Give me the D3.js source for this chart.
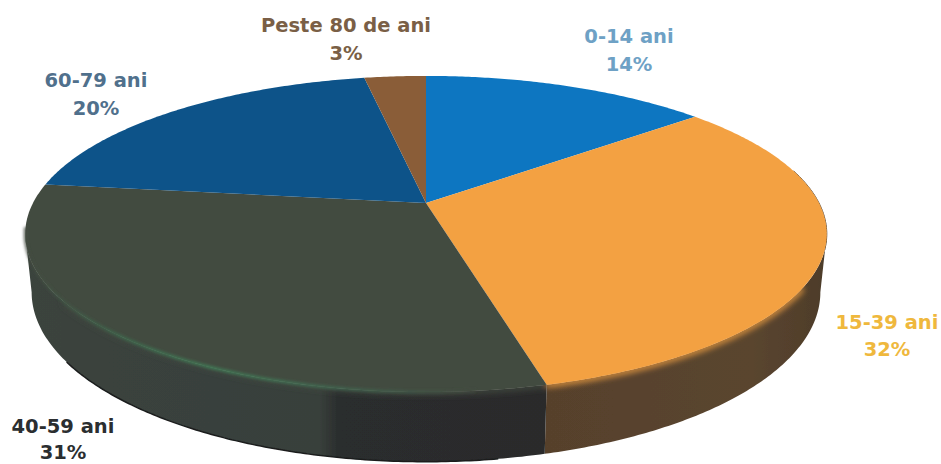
<!DOCTYPE html>
<html>
<head>
<meta charset="utf-8">
<script src="https://cdn.jsdelivr.net/npm/d3@7"></script>
<style>
html, body { margin: 0; padding: 0; background: #fff; overflow: hidden; }
text { font-family: "DejaVu Sans", sans-serif; font-weight: bold; text-anchor: middle; }
</style>
</head>
<body>
<div id="chart"></div>
<script>
// slices, clockwise from 12 o'clock
let categories = ["0-14 ani", "15-39 ani", "40-59 ani", "60-79 ani", "Peste 80 de ani"];
let values = [14, 32, 31, 20, 3];

let topColors = ["#0b76c1", "#f3a143", "#434b40", "#0b5289", "#8a5d37"];
let sideColors = ["#0a4a78", "url(#sideOrange)", "url(#sideDark)", "#08365a", "#54391f"];
let labelColors = ["#6ea1c5", "#efb83d", "#2b2e30", "#50708c", "#7a5f46"];
let labelX = [629, 887, 63, 96, 346];
let labelY = [43, 329, 433, 87, 32];
let labelGap = [28, 27, 26, 28, 28];

let width = 941, height = 464;

// perspective of the disc: x0,y0 is where the slices meet
let x0 = 426, y0 = 203, a = 393, b = 152, k = 0.196;
let depth = 56;
// angles where the rim turns from back to front
let foldRight = Math.acos(-k), foldLeft = 2 * Math.PI - foldRight;

// t = 0 is the top rim, t = 1 the bottom rim of the wall
function project(angle, t) {
	let u = Math.sin(angle), v = -Math.cos(angle);
	let w = 1 - k * v;
	let shrink = 1 - 0.016 * t;
	return [
		x0 + shrink * a * u / w,
		y0 + b * v / w + t * depth / w
	];
}

function arcPoints(a0, a1, t) {
	let n = Math.ceil(Math.abs(a1 - a0) / 0.01);
	return d3.range(n + 1).map(function (i) { return project(a0 + (a1 - a0) * i / n, t); });
}

let line = d3.line();
let pie = d3.pie().sort(null);
let slices = pie(values);

let colorTop = d3.scaleOrdinal().domain(categories).range(topColors);
let colorSide = d3.scaleOrdinal().domain(categories).range(sideColors);
let colorLabel = d3.scaleOrdinal().domain(categories).range(labelColors);

let svg = d3.select("#chart").append("svg")
	.attr("width", width)
	.attr("height", height)
	.style("display", "block");

let defs = svg.append("defs");

function addGradient(id, x1, x2, stops) {
	let g = defs.append("linearGradient")
		.attr("id", id)
		.attr("gradientUnits", "userSpaceOnUse")
		.attr("x1", x1).attr("x2", x2).attr("y1", 0).attr("y2", 0);
	stops.forEach(function (s) {
		g.append("stop").attr("offset", s[0]).attr("stop-color", s[1]);
	});
}
addGradient("sideDark", 0, width, [[0, "#3b443e"], [0.34, "#383f3b"], [0.36, "#2a2d2d"], [0.6, "#292b2c"]]);
addGradient("sideOrange", 0, width, [[0.58, "#57412c"], [0.8, "#5a452f"], [0.88, "#4d3c2a"]]);
addGradient("sheen", 30, 470, [[0, "#434b40"], [0.2, "#3c6a4d"], [0.42, "#40845a"], [0.7, "#3f6a52"], [1, "#434b40"]]);

function addBlur(id, amount) {
	defs.append("filter").attr("id", id)
		.attr("x", "-10%").attr("y", "-10%").attr("width", "120%").attr("height", "120%")
		.append("feGaussianBlur").attr("stdDeviation", amount);
}
addBlur("soft", 0.7);
addBlur("glow", 1.6);
addBlur("bevel", 3);

// walls: only the front part of each slice shows
svg.append("g").attr("filter", "url(#soft)")
	.selectAll("path")
	.data(slices.filter(function (d) { return d.endAngle > foldRight && d.startAngle < foldLeft; }))
	.enter().append("path")
	.attr("d", function (d) {
		let a0 = Math.max(d.startAngle, foldRight), a1 = Math.min(d.endAngle, foldLeft);
		return line(arcPoints(a0, a1, 0).concat(arcPoints(a1, a0, 1))) + "Z";
	})
	.attr("fill", function (d) { return colorSide(categories[d.index]); });

// dark lower edge of the 40-59 wall
let dark = slices[2], orange = slices[1];
svg.append("path")
	.attr("d", line(arcPoints(dark.startAngle + 0.1, foldLeft - 0.4, 1)))
	.attr("fill", "none")
	.attr("stroke", "#1b1e1e")
	.attr("stroke-width", 1.5)
	.attr("filter", "url(#soft)");

// soft rounded edge between the top and the front wall
let frontArcs = [
	[orange, 2.1, orange.endAngle],
	[dark, dark.startAngle, 4.1]
];
svg.append("g").attr("filter", "url(#bevel)")
	.selectAll("path")
	.data(frontArcs)
	.enter().append("path")
	.attr("d", function (d) { return line(arcPoints(d[1], d[2], 0)); })
	.attr("fill", "none")
	.attr("stroke-width", 5)
	.attr("stroke", function (d) { return colorTop(categories[d[0].index]); });

// thin dark line round the right of the orange slice
svg.append("path")
	.attr("d", line(arcPoints(1.35, foldRight + 0.1, 0)))
	.attr("fill", "none")
	.attr("stroke", "#4d3c2a")
	.attr("stroke-width", 1)
	.attr("filter", "url(#soft)");

svg.append("g").attr("filter", "url(#soft)")
	.selectAll("path")
	.data(slices)
	.enter().append("path")
	.attr("d", function (d) {
		return line([[x0, y0]].concat(arcPoints(d.startAngle, d.endAngle, 0))) + "Z";
	})
	.attr("fill", function (d, i) { return colorTop(categories[i]); });

// green sheen along the front edge of the 40-59 slice
svg.append("path")
	.attr("d", line(arcPoints(dark.startAngle + 0.15, dark.endAngle - 0.28, 0)))
	.attr("fill", "none")
	.attr("stroke", "url(#sheen)")
	.attr("stroke-width", 2.5)
	.attr("filter", "url(#glow)");

let labels = svg.append("g")
	.selectAll("text")
	.data(slices)
	.enter().append("text")
	.attr("x", function (d, i) { return labelX[i]; })
	.attr("y", function (d, i) { return labelY[i]; })
	.attr("font-size", 19.5)
	.attr("fill", function (d, i) { return colorLabel(categories[i]); });

labels.append("tspan")
	.attr("x", function (d, i) { return labelX[i]; })
	.text(function (d, i) { return categories[i]; });
labels.append("tspan")
	.attr("x", function (d, i) { return labelX[i]; })
	.attr("dy", function (d, i) { return labelGap[i]; })
	.text(function (d) { return d.value + "%"; });
</script>
</body>
</html>
